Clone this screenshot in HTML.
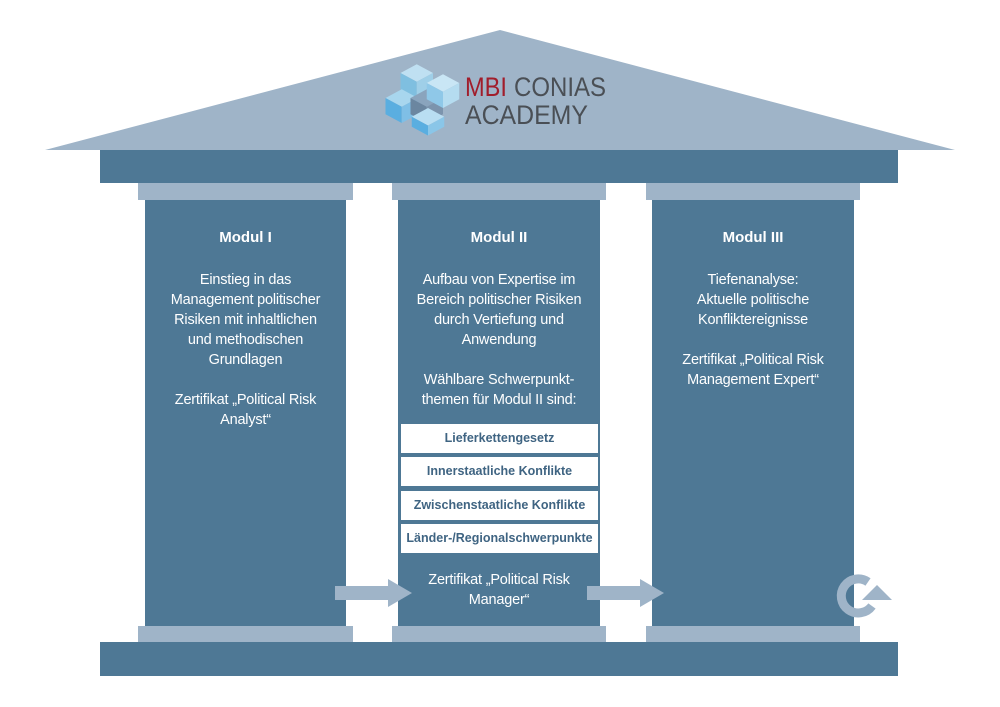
<!DOCTYPE html>
<html><head><meta charset="utf-8"><style>
body{margin:0;background:#fff;width:1000px;height:707px;overflow:hidden;font-family:"Liberation Sans",sans-serif}
.t{position:absolute;color:#fff;text-align:center;font-size:14.5px;line-height:20px;letter-spacing:-0.2px}
.h{position:absolute;color:#fff;text-align:center;font-weight:bold;font-size:15px}
.b{position:absolute;left:401px;width:197px;height:29px;background:#fff;color:#3f6482;font-weight:bold;font-size:12.5px;text-align:center;line-height:29px}
</style></head><body>
<svg width="1000" height="707" style="position:absolute;left:0;top:0">
<polygon points="45,150 500,30 955,150" fill="#9fb4c8"/>
<rect x="100" y="150" width="798" height="33" fill="#4e7895"/>
<g fill="#9fb4c8">
<rect x="138" y="183" width="215" height="17"/><rect x="392" y="183" width="214" height="17"/><rect x="646" y="183" width="214" height="17"/>
<rect x="138" y="626" width="215" height="16"/><rect x="392" y="626" width="214" height="16"/><rect x="646" y="626" width="214" height="16"/>
</g>
<g fill="#4e7895">
<rect x="145" y="200" width="201" height="426"/><rect x="398" y="200" width="202" height="426"/><rect x="652" y="200" width="202" height="426"/>
<rect x="100" y="642" width="798" height="34"/>
</g>
<g fill="#9fb4c8">
<polygon points="335,586 388,586 388,579 412,593 388,607 388,600 335,600"/>
<polygon points="587,586 640,586 640,579 664,593 640,607 640,600 587,600"/>
<path d="M868,582 A17,17 0 1 0 872,606" fill="none" stroke="#9fb4c8" stroke-width="9"/>
<polygon points="862,600 892,600 877,585"/>
</g>
<g transform="translate(423,98) scale(1.25) translate(-423,-98)">
<polygon points="405,78 418,71 431,78 418,85" fill="#bfe0f2"/>
<polygon points="405,78 418,85 418,99 405,92" fill="#7fbfe0"/>
<polygon points="418,85 431,78 431,92 418,99" fill="#9fcfe8"/>
<polygon points="393,98 406,91 419,98 406,105" fill="#a8d6ee"/>
<polygon points="393,98 406,105 406,118 393,111" fill="#5aaee0"/>
<polygon points="406,105 419,98 419,111 406,118" fill="#7fbfe6"/>
<polygon points="413,98 426,91 439,98 426,105" fill="#8aa4bd"/>
<polygon points="413,98 426,105 426,118 413,111" fill="#6b86a0"/>
<polygon points="426,105 439,98 439,111 426,118" fill="#7c94ad"/>
<polygon points="426,86 439,79 452,86 439,93" fill="#c9e6f5"/>
<polygon points="426,86 439,93 439,106 426,99" fill="#8fc8e8"/>
<polygon points="439,93 452,86 452,99 439,106" fill="#b5dcf0"/>
<polygon points="414,113 427,106 440,113 427,120" fill="#b9def2"/>
<polygon points="414,113 427,120 427,128 414,121" fill="#5aaee0"/>
<polygon points="427,120 440,113 440,121 427,128" fill="#8ac6e8"/>
</g>
<text x="465" y="96" font-family="Liberation Sans, sans-serif" font-size="27" fill="#a11d2b" textLength="42" lengthAdjust="spacingAndGlyphs">MBI</text>
<text x="514" y="96" font-family="Liberation Sans, sans-serif" font-size="27" fill="#4a4f55" textLength="92" lengthAdjust="spacingAndGlyphs">CONIAS</text>
<text x="465" y="124" font-family="Liberation Sans, sans-serif" font-size="27" fill="#4a4f55" textLength="123" lengthAdjust="spacingAndGlyphs">ACADEMY</text>
</svg>
<div class="h" style="left:145px;width:201px;top:229px">Modul I</div>
<div class="h" style="left:398px;width:202px;top:229px">Modul II</div>
<div class="h" style="left:652px;width:202px;top:229px">Modul III</div>
<div class="t" style="left:145px;width:201px;top:270px">Einstieg in das<br>Management politischer<br>Risiken mit inhaltlichen<br>und methodischen<br>Grundlagen<br><br>Zertifikat „Political Risk<br>Analyst“</div>
<div class="t" style="left:398px;width:202px;top:270px">Aufbau von Expertise im<br>Bereich politischer Risiken<br>durch Vertiefung und<br>Anwendung<br><br>Wählbare Schwerpunkt-<br>themen für Modul II sind:</div>
<div class="t" style="left:652px;width:202px;top:270px">Tiefenanalyse:<br>Aktuelle politische<br>Konfliktereignisse<br><br>Zertifikat „Political Risk<br>Management Expert“</div>
<div class="b" style="top:424px">Lieferkettengesetz</div>
<div class="b" style="top:457px">Innerstaatliche Konflikte</div>
<div class="b" style="top:491px">Zwischenstaatliche Konflikte</div>
<div class="b" style="top:524px">Länder-/Regionalschwerpunkte</div>
<div class="t" style="left:398px;width:202px;top:570px">Zertifikat „Political Risk<br>Manager“</div>
</body></html>
